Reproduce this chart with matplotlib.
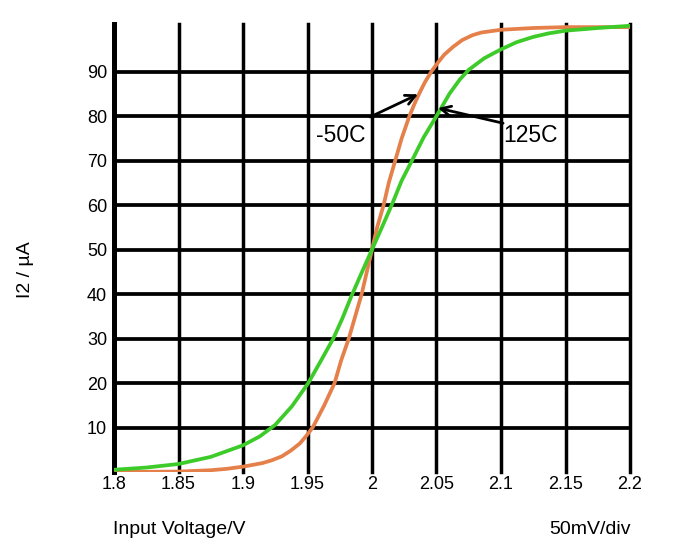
import matplotlib
matplotlib.use("Agg")
import matplotlib.pyplot as plt

plt.rcParams['font.family'] = ['Liberation Sans', 'DejaVu Sans']

# -50C curve (orange)
v_cold = [1.80, 1.85, 1.875, 1.887, 1.90, 1.915, 1.922, 1.93, 1.937, 1.944, 1.949, 1.954,
          1.958, 1.963, 1.967, 1.971, 1.976, 1.982, 1.987, 1.992, 1.996,
          2.000, 2.004, 2.009, 2.013, 2.018, 2.023, 2.029, 2.033, 2.037, 2.041, 2.046,
          2.051, 2.056, 2.063, 2.070, 2.078, 2.085, 2.10, 2.125, 2.15, 2.20]
i_cold = [0.0, 0.1, 0.4, 0.7, 1.2, 2.0, 2.6, 3.5, 4.8, 6.4, 8.1, 10.0,
          12.2, 15.0, 17.5, 20.0, 25.0, 30.0, 35.0, 40.0, 45.0,
          50.0, 55.0, 60.0, 65.0, 70.0, 75.0, 80.0, 82.8, 85.3, 87.6, 90.0,
          92.0, 93.8, 95.6, 97.1, 98.2, 98.8, 99.4, 99.8, 100.0, 100.0]

# 125C curve (green)
v_hot = [1.80, 1.825, 1.85, 1.875, 1.90, 1.913, 1.925, 1.938, 1.9506, 1.960, 1.970, 1.977,
         1.984, 1.992, 2.000, 2.008, 2.016, 2.023, 2.031, 2.040, 2.050, 2.060, 2.068,
         2.075, 2.087, 2.10, 2.112, 2.125, 2.137, 2.15, 2.175, 2.20]
i_hot = [0.5, 1.0, 1.8, 3.4, 6.0, 8.0, 10.6, 14.8, 20.0, 24.8, 30.0, 34.5,
         39.5, 44.8, 50.0, 55.2, 60.5, 65.5, 70.0, 75.2, 80.0, 85.0, 88.2,
         90.4, 93.0, 95.0, 96.6, 97.8, 98.6, 99.2, 99.8, 100.3]

x_ticks = [1.80, 1.85, 1.90, 1.95, 2.00, 2.05, 2.10, 2.15, 2.20]
x_tick_labels = ['1.8', '1.85', '1.9', '1.95', '2', '2.05', '2.1', '2.15', '2.2']
y_ticks = [10, 20, 30, 40, 50, 60, 70, 80, 90]
y_tick_labels = ['10', '20', '30', '40', '50', '60', '70', '80', '90']

fig = plt.figure(figsize=(6.96, 5.5), dpi=100)
ax = fig.add_axes([114/696, (550-472)/550, (630-114)/696, (472-24)/550])
ax.set_xlim(1.8, 2.2)
ax.set_ylim(0, 100.7)

for i, x in enumerate(x_ticks):
    ax.axvline(x, color='black', lw=3.6 if i == 0 else 2.5, zorder=1, clip_on=False)
for y in y_ticks:
    ax.axhline(y, color='black', lw=2.7, zorder=1, clip_on=False)

ax.plot(v_cold, i_cold, color='#E5804A', lw=2.7, zorder=3, solid_capstyle='round',
        solid_joinstyle='round')
ax.plot(v_hot, i_hot, color='#3DCB2A', lw=2.7, zorder=4, solid_capstyle='round',
        solid_joinstyle='round')

for s in ax.spines.values():
    s.set_visible(False)
ax.set_xticks(x_ticks)
ax.set_xticklabels(x_tick_labels)
ax.set_yticks(y_ticks)
ax.set_yticklabels(y_tick_labels)
ax.tick_params(axis='both', length=0, labelsize=13)
ax.tick_params(axis='x', pad=3)
ax.tick_params(axis='y', pad=5)

arrow = dict(arrowstyle='->,head_length=0.7,head_width=0.35', lw=2.0, color='black',
             shrinkA=0, shrinkB=0)
ax.annotate('', xy=(2.0357, 84.9), xytext=(1.9985, 79.8), arrowprops=arrow, zorder=5)
ax.annotate('', xy=(2.0512, 81.8), xytext=(2.1016, 78.4), arrowprops=arrow, zorder=5)
ax.text(1.976, 75.7, '-50C', fontsize=16.5, ha='center', va='center', zorder=6)
ax.text(2.123, 75.7, '125C', fontsize=16.5, ha='center', va='center', zorder=6)

fig.text(113/696, 1 - 530/550, 'Input Voltage/V', fontsize=14, ha='left', va='center')
fig.text(631/696, 1 - 530/550, '50mV/div', fontsize=14, ha='right', va='center')
fig.text(25/696, 1 - 270/550, 'I2 / µA', fontsize=14, ha='center', va='center', rotation=90)

fig.savefig('out.png', dpi=100)
